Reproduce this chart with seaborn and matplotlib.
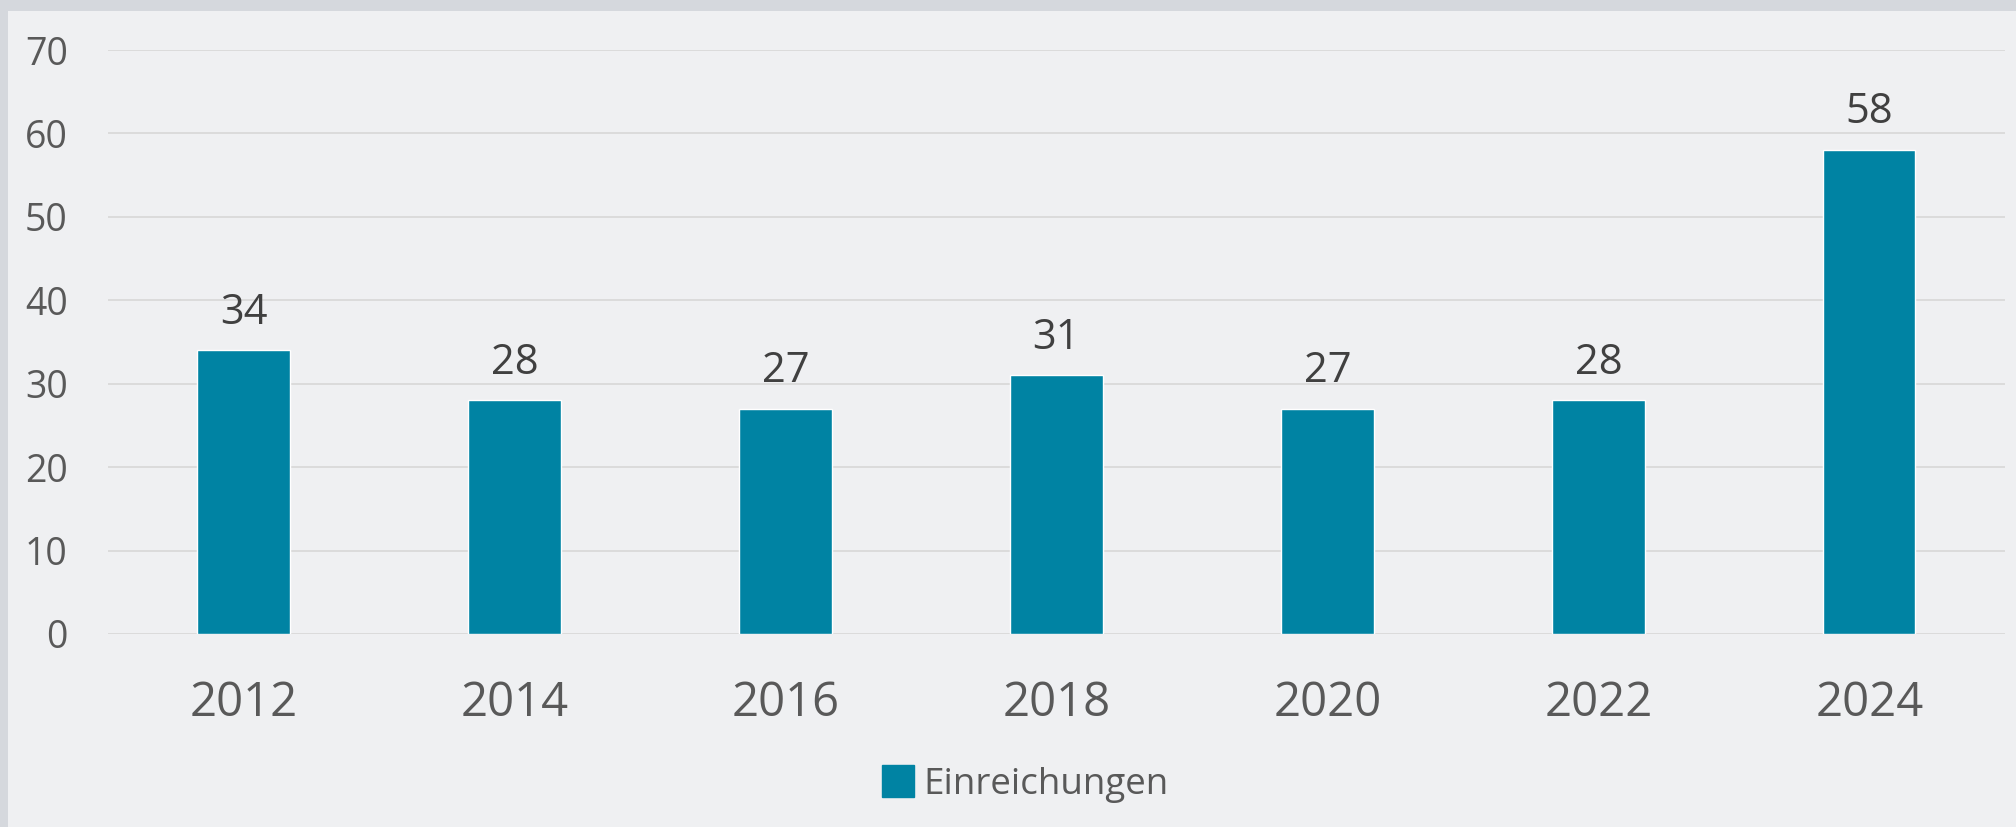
import pandas as pd
import matplotlib.pyplot as plt
import seaborn as sns
from matplotlib.patches import Rectangle
from matplotlib.lines import Line2D

# Einreichungen pro Jahr
years = ['2012', '2014', '2016', '2018', '2020', '2022', '2024']
submissions = [34, 28, 27, 31, 27, 28, 58]
y_ticks = [0, 10, 20, 30, 40, 50, 60, 70]

BAR_COLOR = '#0083a3'
BG = '#eff0f2'
BORDER = '#d5d8dd'

df = pd.DataFrame({'Jahr': years, 'Einreichungen': submissions})

sns.set_theme(style='white')
plt.rcParams['font.family'] = ['Open Sans', 'DejaVu Sans']

fig = plt.figure(figsize=(20.16, 8.27), dpi=100, facecolor=BG)
ax = fig.add_axes([0.0536, 0.2334, 0.9409, 0.7061])
ax.set_facecolor(BG)

sns.barplot(data=df, x='Jahr', y='Einreichungen', color=BAR_COLOR,
            width=0.34, saturation=1, ax=ax, zorder=3)

ax.set_ylim(0, 70)
ax.set_xlim(-0.5, len(years) - 0.5)
ax.set_yticks(y_ticks)
ax.grid(axis='y', color='#d9d9d9', linewidth=1.3, zorder=0)
ax.grid(axis='x', visible=False)
for s in ax.spines.values():
    s.set_visible(False)

ax.set_xlabel('')
ax.set_ylabel('')
ax.tick_params(axis='y', labelsize=27, labelcolor='#595959', pad=29, length=0)
ax.tick_params(axis='x', labelsize=34, labelcolor='#595959', pad=33, length=0)

# Werte über den Balken
for c in ax.containers:
    ax.bar_label(c, labels=[str(v) for v in submissions], padding=12,
                 fontsize=30, color='#404040')

# grauer Rahmen oben und links
fig.patches.append(Rectangle((0, 1 - 11 / 827), 1, 11 / 827, transform=fig.transFigure,
                             facecolor=BORDER, edgecolor='none', zorder=0))
fig.patches.append(Rectangle((0, 0), 8 / 2016, 1, transform=fig.transFigure,
                             facecolor=BORDER, edgecolor='none', zorder=0))

handle = Line2D([], [], marker='s', linestyle='none', markersize=23,
                markerfacecolor=BAR_COLOR, markeredgecolor=BAR_COLOR)
fig.legend([handle], ['Einreichungen'], loc='center', bbox_to_anchor=(0.508, 0.051),
           frameon=False, fontsize=26.5, labelcolor='#595959',
           handletextpad=0.2, handlelength=1.0)

fig.savefig('out.png', dpi=100, facecolor=BG)
